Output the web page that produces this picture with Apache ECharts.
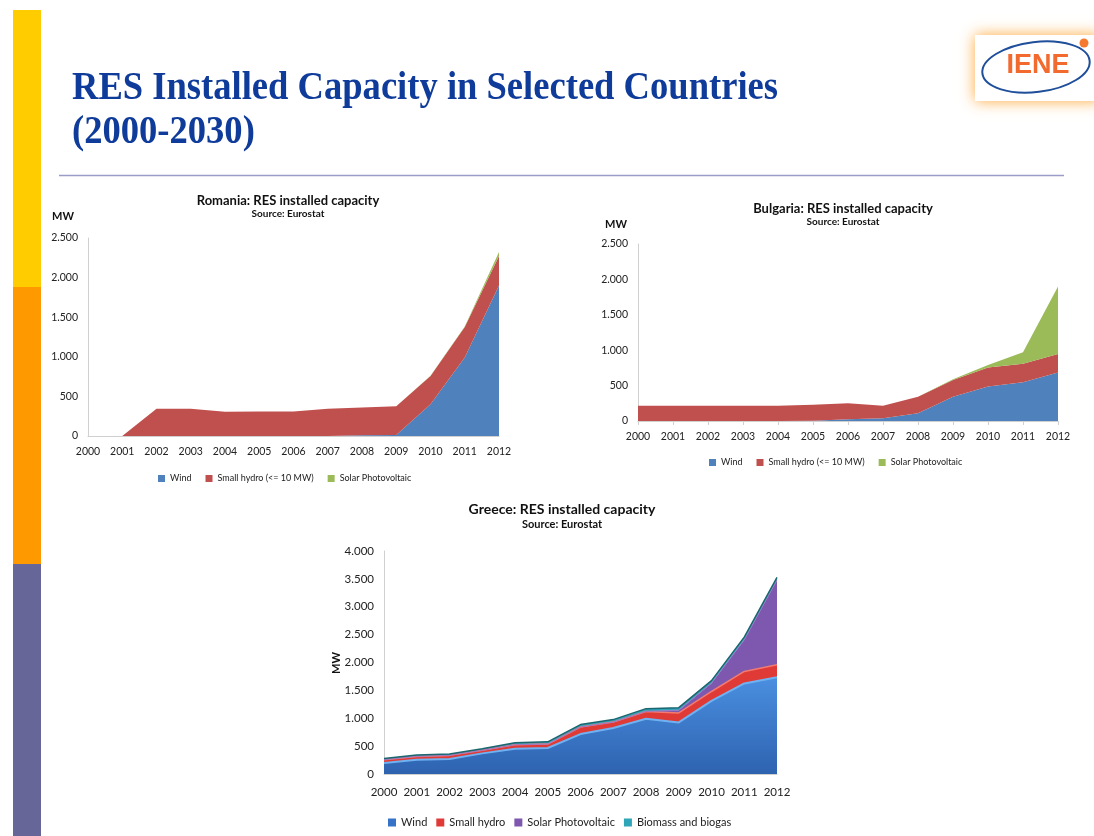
<!DOCTYPE html>
<html>
<head>
<meta charset="utf-8">
<script src="https://cdn.jsdelivr.net/npm/echarts@6/dist/echarts.min.js"></script>
<style>
html,body{margin:0;padding:0;background:#fff;}
#c{width:1094px;height:836px;}
</style>
</head>
<body>
<div id="c"></div>
<script>
// ---- data ----
const years = ['2000','2001','2002','2003','2004','2005','2006','2007','2008','2009','2010','2011','2012'];

const roWind  = [0,0,0,0,0,0,0,0,10,14,400,990,1900];
const roHydro = [0,0,345,345,305,310,310,345,350,361,358,386,373];
const roSolar = [0,0,0,0,0,0,0,0,0,0,2,5,50];

const bgWind  = [0,0,0,0,0,5,24,38,108,344,486,547,684];
const bgHydro = [217,217,217,217,217,226,226,179,236,236,269,260,264];
const bgSolar = [0,0,0,0,0,0,0,0,0,10,37,165,953];

const grWind  = [197,257,269,370,454,466,716,824,991,925,1313,1624,1737];
const grHydro = [60,59,65,54,71,71,126,107,131,170,167,215,221];
const grSolar = [0,0,0,0,0,0,0,0,0,50,150,567,1523];
const grBio   = [20,25,25,30,35,40,45,45,50,45,45,50,45];

const roNames = ['Wind','Small hydro (<= 10 MW)','Solar Photovoltaic'];
const grNames = ['Wind','Small hydro','Solar Photovoltaic','Biomass and biogas'];

// ---- helpers ----
const FONT = 'Lato, "Open Sans", sans-serif';
const fmt = v => String(v).replace(/\B(?=(\d{3})+(?!\d))/g, '.');
const C = {wind:'#4F81BD', hydro:'#C0504D', solar:'#9BBB59'};
const G = {
  wind: new echarts.graphic.LinearGradient(0,0,0,1,[{offset:0,color:'#4A8FE0'},{offset:1,color:'#2E63B0'}]),
  hydro:'#E03A36', solar:'#7E57AE', bio:'#2FA6B8'
};

function measure(txt, font){
  const cv=document.createElement('canvas').getContext('2d');
  cv.font=font; return cv.measureText(txt).width;
}
const tFont = 'bold 40px "Liberation Serif"';
const t1 = 'RES Installed Capacity in Selected Countries';
const t2 = '(2000-2030)';
const sx = 706 / measure(t1, tFont);

const chart = echarts.init(document.getElementById('c'), null, {renderer:'canvas'});

function xAx(grid, size, tick, margin){
  return {type:'category', gridIndex:grid, data:years, boundaryGap:false,
    axisLine:{lineStyle:{color:'#D0D0D0'}}, axisTick:{show:tick, lineStyle:{color:'#D0D0D0'}, length:4},
    axisLabel:{color:'#222', fontSize:size, fontFamily:FONT, margin:margin, interval:0}};
}
function yAx(grid, max, size){
  return {type:'value', gridIndex:grid, min:0, max:max, interval:500,
    axisLine:{show:true, lineStyle:{color:'#D0D0D0'}}, axisTick:{show:false},
    splitLine:{show:false},
    axisLabel:{color:'#222', fontSize:size, fontFamily:FONT, margin:10, formatter:fmt}};
}
function area(name, data, xi, stack, color, extra){
  return Object.assign({type:'line', name:name, data:data, xAxisIndex:xi, yAxisIndex:xi,
    stack:stack, symbol:'none', smooth:false,
    lineStyle:{width:0}, areaStyle:{color:color, opacity:1}, itemStyle:{color:color}, z:2}, extra||{});
}

const option = {
  animation:false,
  textStyle:{fontFamily:FONT},
  title:[
    {text:'Romania: RES installed capacity', subtext:'Source: Eurostat', left:283, top:189, textAlign:'center', itemGap:2,
      textStyle:{fontSize:13, fontWeight:'bold', color:'#111'}, subtextStyle:{fontSize:10, fontWeight:'bold', color:'#111'}},
    {text:'Bulgaria: RES installed capacity', subtext:'Source: Eurostat', left:838, top:197, textAlign:'center', itemGap:2,
      textStyle:{fontSize:13, fontWeight:'bold', color:'#111'}, subtextStyle:{fontSize:10, fontWeight:'bold', color:'#111'}},
    {text:'Greece: RES installed capacity', subtext:'Source: Eurostat', left:557, top:497, textAlign:'center', itemGap:3,
      textStyle:{fontSize:14, fontWeight:'bold', color:'#111'}, subtextStyle:{fontSize:11, fontWeight:'bold', color:'#111'}}
  ],
  grid:[
    {left:88, top:238, width:411, height:198},
    {left:638, top:244, width:420, height:177},
    {left:384, top:551, width:393, height:223}
  ],
  xAxis:[xAx(0,10.5,false,10), xAx(1,10.5,true,10), xAx(2,11.5,false,12)],
  yAxis:[yAx(0,2500,10.5), yAx(1,2500,10.5), yAx(2,4000,11.5)],
  legend:[
    {left:153, top:469, itemWidth:7, itemHeight:7, itemGap:14, icon:'rect',
      textStyle:{fontSize:9, color:'#222'},
      data:[{name:roNames[0], itemStyle:{color:C.wind}},{name:roNames[1], itemStyle:{color:C.hydro}},{name:roNames[2], itemStyle:{color:C.solar}}]},
    {left:704, top:453, itemWidth:7, itemHeight:7, itemGap:14, icon:'rect',
      textStyle:{fontSize:9, color:'#222'},
      data:[{name:roNames[0], itemStyle:{color:C.wind}},{name:roNames[1], itemStyle:{color:C.hydro}},{name:roNames[2], itemStyle:{color:C.solar}}]},
    {left:383, top:812, itemWidth:8, itemHeight:8, itemGap:9, icon:'rect',
      textStyle:{fontSize:11, color:'#222'},
      data:[{name:grNames[0], itemStyle:{color:'#3572C8'}},{name:grNames[1], itemStyle:{color:G.hydro}},{name:grNames[2], itemStyle:{color:G.solar}},{name:grNames[3], itemStyle:{color:G.bio}}]}
  ],
  series:[
    area(roNames[0], roWind, 0, 'ro', C.wind),
    area(roNames[1], roHydro, 0, 'ro', C.hydro),
    area(roNames[2], roSolar, 0, 'ro', C.solar),
    area(roNames[0], bgWind, 1, 'bg', C.wind),
    area(roNames[1], bgHydro, 1, 'bg', C.hydro),
    area(roNames[2], bgSolar, 1, 'bg', C.solar),
    area(grNames[0], grWind, 2, 'gr', G.wind, {lineStyle:{width:2, color:'#6FB2F2'}}),
    area(grNames[1], grHydro, 2, 'gr', G.hydro, {lineStyle:{width:1.5, color:'#F27A70'}}),
    area(grNames[2], grSolar, 2, 'gr', G.solar, {lineStyle:{width:1, color:'#9A78C8'}}),
    area(grNames[3], grBio, 2, 'gr', G.bio, {lineStyle:{width:1.5, color:'#1C6670'}})
  ],
  graphic:[
    {type:'rect', shape:{x:13,y:10,width:28,height:277}, style:{fill:'#FFCC00'}, silent:true},
    {type:'rect', shape:{x:13,y:287,width:28,height:277}, style:{fill:'#FF9900'}, silent:true},
    {type:'rect', shape:{x:13,y:564,width:28,height:272}, style:{fill:'#666699'}, silent:true},
    {type:'line', shape:{x1:59,y1:175.5,x2:1064,y2:175.5}, style:{stroke:'#9C9CC8', lineWidth:1.5}, silent:true},
    {type:'text', x:72, y:109, scaleX:sx, style:{text:t1, font:tFont, fill:'#0F3C9A', verticalAlign:'bottom'}, silent:true},
    {type:'text', x:72, y:153, scaleX:sx, style:{text:t2, font:tFont, fill:'#0F3C9A', verticalAlign:'bottom'}, silent:true},
    // chart axis titles
    {type:'text', x:52, y:211, style:{text:'MW', font:'bold 11px '+FONT, fill:'#111'}, silent:true},
    {type:'text', x:605, y:219, style:{text:'MW', font:'bold 11px '+FONT, fill:'#111'}, silent:true},
    {type:'text', x:336, y:663, rotation:Math.PI/2, style:{text:'MW', font:'bold 11px '+FONT, fill:'#111', align:'center', verticalAlign:'middle'}, silent:true},
    // logo
    {type:'rect', shape:{x:975,y:35,width:125,height:66}, style:{fill:'#fff', shadowColor:'rgba(255,160,40,0.9)', shadowBlur:14}, silent:true},
    {type:'ellipse', shape:{cx:1036,cy:67,rx:54,ry:25}, rotation:0.12, originX:1036, originY:67, style:{fill:'none', stroke:'#1F4E9A', lineWidth:2}, silent:true},
    {type:'text', x:1038, y:66, style:{text:'IENE', font:'bold 27px "Liberation Sans"', fill:'#F26A2E', align:'center', verticalAlign:'middle'}, silent:true},
    {type:'circle', shape:{cx:1084,cy:43,r:4.5}, style:{fill:'#F5792F'}, silent:true}
  ]
};
chart.setOption(option);
</script>
</body>
</html>
